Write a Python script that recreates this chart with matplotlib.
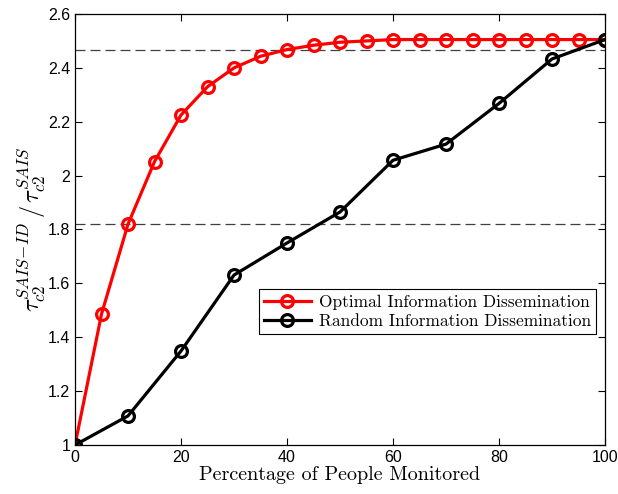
import numpy as np
import matplotlib
matplotlib.use("Agg")
import matplotlib.pyplot as plt

plt.rcParams['font.family'] = ['Liberation Sans', 'DejaVu Sans']
plt.rcParams['mathtext.fontset'] = 'cm'

# data
x_opt = [0, 5, 10, 15, 20, 25, 30, 35, 40, 45, 50, 55, 60, 65, 70, 75, 80, 85, 90, 95, 100]
y_opt = [1.0, 1.486, 1.82, 2.052, 2.225, 2.33, 2.40, 2.443, 2.468, 2.484, 2.495, 2.50, 2.505,
         2.505, 2.505, 2.505, 2.505, 2.505, 2.505, 2.505, 2.505]
x_rnd = [0, 10, 20, 30, 40, 50, 60, 70, 80, 90, 100]
y_rnd = [1.0, 1.108, 1.349, 1.631, 1.75, 1.865, 2.057, 2.117, 2.268, 2.433, 2.505]
ref_levels = [2.466, 1.82]

fig = plt.figure(figsize=(6.18, 4.94), dpi=100)
ax = fig.add_axes([0.1214, 0.0992, 0.8576, 0.8725])

for lv in ref_levels:
    ax.axhline(lv, color='#404040', lw=0.9, dashes=(8, 4), zorder=1)

ax.plot(x_opt, y_opt, color='red', lw=2.3, marker='o', ms=8.5, mfc='none', mew=2.3,
        label='Optimal Information Dissemination', zorder=2)
ax.plot(x_rnd, y_rnd, color='black', lw=2.3, marker='o', ms=8.5, mfc='none', mew=2.3,
        label='Random Information Dissemination', zorder=3)

ax.set_xlim(0, 100)
ax.set_ylim(1, 2.6)
ax.set_xticks([0, 20, 40, 60, 80, 100])
ax.set_yticks([1, 1.2, 1.4, 1.6, 1.8, 2, 2.2, 2.4, 2.6])
ax.set_yticklabels(['1', '1.2', '1.4', '1.6', '1.8', '2', '2.2', '2.4', '2.6'])
ax.tick_params(direction='in', top=True, right=True, labelsize=11.5, length=5, width=0.8)
for s in ax.spines.values():
    s.set_linewidth(0.9)

ax.set_xlabel('Percentage of People Monitored', fontfamily='cmr10', fontsize=14.5, labelpad=1)
ax.set_ylabel(r'$\tau_{c2}^{SAIS\!-\!ID}\,/\,\tau_{c2}^{SAIS}$', fontsize=17.5, labelpad=0)

leg = ax.legend(loc='lower right', bbox_to_anchor=(0.983, 0.258), fancybox=False,
                edgecolor='black', framealpha=1, borderpad=0.3, handlelength=2.7,
                handletextpad=0.45, labelspacing=0.2, borderaxespad=0,
                prop={'family': 'cmr10', 'size': 12.5})
leg.get_frame().set_linewidth(0.8)

fig.savefig('out.png', dpi=100)
